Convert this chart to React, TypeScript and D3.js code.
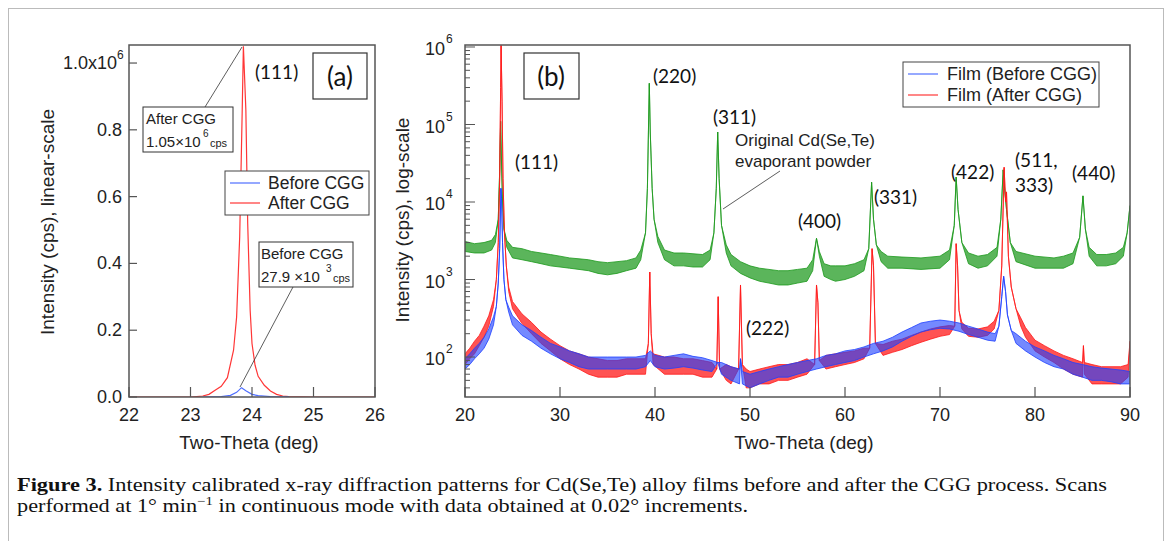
import React from 'react';
import * as d3 from 'd3';

type P = [number, number, number?];

// ---- panel (a): linear scale, (111) reflection ----
const aXTicks = [22, 23, 24, 25, 26];
const aYTicks = [0, 0.2e6, 0.4e6, 0.6e6, 0.8e6, 1.0e6];
const aYLabels = ['0.0', '0.2', '0.4', '0.6', '0.8', '1.0x10'];

const aAfter: [number, number][] = [
  [22.0, 0], [23.0, 0], [23.2, 3e3], [23.3, 8e3], [23.4, 20e3], [23.5, 32e3], [23.6, 58e3],
  [23.7, 140e3], [23.75, 240e3], [23.8, 480e3], [23.84, 850e3], [23.86, 1050e3], [23.9, 860e3],
  [23.93, 520e3], [23.97, 260e3], [24.0, 160e3], [24.05, 95e3], [24.1, 62e3], [24.2, 35e3],
  [24.3, 18e3], [24.4, 8e3], [24.5, 3e3], [24.6, 1e3], [25.0, 0], [26.0, 0],
];
const aBefore: [number, number][] = [
  [23.2, 0], [23.5, 1.5e3], [23.65, 5e3], [23.75, 14e3], [23.83, 27.9e3], [23.9, 19e3],
  [24.0, 8e3], [24.1, 4e3], [24.3, 1.5e3], [24.6, 0.3e3],
];

// ---- panel (b): log scale, full scan. [2theta, low, high] of the noise band ----
const bXTicks = [20, 30, 40, 50, 60, 70, 80, 90];
const bYMajor = [1e2, 1e3, 1e4, 1e5, 1e6];
const bYExp = ['2', '3', '4', '5', '6'];

const powder: P[] = [
  [20, 2300, 3100], [21, 2200, 2900], [22, 2200, 3000], [22.8, 2400, 3200], [23.2, 3000, 3800],
  [23.5, 6000], [23.65, 2.5e4], [23.75, 1.1e5], [23.85, 3e4], [23.95, 1e4], [24.1, 4500],
  [24.4, 2600, 3200], [25, 1900, 2600], [26, 1800, 2500], [27, 1700, 2300], [28, 1600, 2200],
  [29, 1500, 2100], [30, 1450, 2000], [31, 1400, 1900], [32, 1350, 1850], [33, 1300, 1800],
  [34, 1200, 1700], [35, 1150, 1650], [36, 1200, 1700], [37, 1300, 1750], [38, 1400, 1900],
  [38.5, 1800, 2400], [39.0, 4000], [39.2, 1.5e4], [39.4, 3.4e5], [39.5, 8e4], [39.7, 1.5e4],
  [39.9, 6000], [40.3, 3000, 3600], [41, 1800, 2400], [42, 1500, 2200], [43, 1500, 2200],
  [44, 1450, 2150], [45, 1450, 2100], [45.8, 1800, 2400], [46.2, 4000], [46.45, 1.5e4],
  [46.6, 8e4], [46.75, 2e4], [47.0, 5000], [47.5, 2200, 2800], [48, 1500, 2100], [49, 1200, 1700],
  [50, 1050, 1500], [51, 950, 1400], [52, 900, 1350], [53, 850, 1300], [54, 850, 1300],
  [55, 900, 1350], [56, 950, 1400], [56.6, 1300, 1800], [57.0, 3400], [57.3, 2000, 2300],
  [57.8, 1100, 1600], [58.5, 1000, 1500], [59, 950, 1500], [60, 1000, 1500], [61, 1100, 1600],
  [62, 1300, 1800], [62.5, 2500], [62.8, 1.8e4], [63.0, 6000], [63.3, 2800], [63.8, 1700, 2300],
  [64.5, 1400, 2000], [66, 1400, 1950], [68, 1350, 1900], [70, 1400, 2000], [71, 1800, 2400],
  [71.5, 5000], [71.7, 2.1e4], [71.9, 8000], [72.3, 3000], [73, 1600, 2200], [74, 1400, 2000],
  [75, 1500, 2100], [76, 2000, 2600], [76.4, 6000], [76.65, 2.6e4], [76.8, 1.5e4], [77.0, 8000],
  [77.4, 3000], [78, 1700, 2300], [80, 1400, 2000], [82, 1400, 1900], [83, 1400, 2000],
  [84, 1600, 2200], [84.7, 3500], [85.05, 1.2e4], [85.3, 4500], [85.7, 2000, 2600],
  [86.5, 1500, 2100], [87.5, 1500, 2100], [88.5, 1600, 2200], [89.3, 2000, 2600], [89.7, 4000],
  [90, 9000],
];

const filmBefore: P[] = [
  [20, 70, 95], [20.5, 80, 110], [21, 95, 130], [21.5, 110, 150], [22, 130, 180], [22.5, 170, 230],
  [23, 260, 330], [23.3, 450], [23.5, 900], [23.65, 2500], [23.78, 1.5e4], [23.85, 1.1e4],
  [23.95, 3000], [24.1, 1000], [24.3, 550], [24.6, 380, 440], [25, 260, 340], [26, 190, 260],
  [27, 160, 220], [28, 130, 180], [29, 110, 150], [30, 95, 135], [31, 85, 120], [32, 75, 110],
  [33, 70, 100], [34, 70, 100], [35, 70, 100], [36, 70, 100], [37, 70, 100], [38, 70, 100],
  [39, 75, 105], [39.5, 90, 120], [40, 75, 105], [41, 70, 100], [42, 72, 105], [43, 75, 110],
  [44, 72, 102], [45, 68, 98], [46, 65, 90], [46.6, 85], [47, 60, 85], [48, 50, 75],
  [48.9, 45, 70], [49.0, 95], [49.2, 45, 65], [50, 40, 60], [51, 45, 65], [52, 50, 70],
  [53, 55, 75], [54, 55, 80], [55, 60, 85], [56, 65, 90], [57, 70, 95], [58, 75, 105],
  [59, 80, 110], [60, 85, 120], [61, 90, 125], [62, 100, 135], [63, 110, 150], [64, 120, 160],
  [65, 135, 180], [66, 160, 210], [67, 185, 240], [68, 210, 275], [69, 225, 290], [70, 235, 300],
  [71, 230, 290], [72, 215, 275], [73, 195, 250], [74, 180, 230], [75, 165, 210], [75.8, 160, 200],
  [76.2, 250], [76.5, 600], [76.7, 1100], [76.9, 700], [77.1, 350], [77.5, 220], [78, 150, 200],
  [79, 120, 160], [80, 100, 135], [81, 85, 120], [82, 75, 105], [83, 70, 95], [84, 60, 85],
  [85, 55, 80], [86, 50, 75], [87, 50, 72], [88, 48, 70], [89, 45, 68], [90, 45, 65],
];

const filmAfter: P[] = [
  [20, 80, 110], [20.5, 95, 130], [21, 110, 160], [21.5, 140, 190], [22, 180, 250], [22.5, 250, 340],
  [23, 450, 550], [23.3, 1000], [23.5, 3000], [23.65, 2e4], [23.75, 3e5], [23.8, 1.05e6],
  [23.9, 2e5], [24.0, 2e4], [24.15, 4000], [24.35, 1500], [24.6, 700, 800], [25, 420, 520],
  [26, 270, 360], [27, 200, 280], [28, 150, 210], [29, 120, 170], [30, 95, 140], [31, 80, 120],
  [32, 70, 110], [33, 60, 100], [34, 55, 95], [35, 55, 90], [36, 55, 90], [37, 60, 95],
  [38, 60, 95], [39, 60, 95], [39.3, 150], [39.45, 1250], [39.6, 200], [39.8, 80, 110],
  [41, 60, 100], [42, 60, 100], [43, 60, 95], [44, 60, 95], [45, 55, 90], [46, 55, 85],
  [46.5, 70], [46.65, 600], [46.8, 70], [47.5, 50, 80], [48, 45, 75], [48.8, 70], [49.0, 850],
  [49.2, 80], [49.6, 40, 70], [50, 40, 65], [51, 45, 70], [52, 45, 75], [53, 50, 80], [54, 50, 80],
  [55, 55, 85], [56, 60, 95], [56.8, 80], [57.0, 850], [57.15, 500], [57.3, 90], [58, 70, 105],
  [59, 75, 110], [60, 80, 115], [61, 85, 120], [62, 95, 130], [62.6, 130], [62.85, 2500],
  [63.0, 1500], [63.2, 150], [64, 105, 145], [65, 115, 160], [66, 125, 170], [67, 140, 190],
  [68, 155, 210], [69, 170, 230], [70, 185, 245], [71, 195, 255], [71.55, 250], [71.7, 2900],
  [71.85, 1500], [72.0, 400], [72.3, 230, 280], [73, 185, 235], [74, 180, 230], [75, 190, 245],
  [75.7, 230, 290], [76.2, 400], [76.5, 1500], [76.75, 2.8e4], [76.9, 1e4], [77.0, 1.35e4],
  [77.2, 2000], [77.5, 800], [78, 420], [78.5, 250, 320], [79, 180, 240], [80, 120, 165],
  [81, 100, 140], [82, 85, 120], [83, 70, 105], [84, 60, 95], [85, 55, 85], [85.1, 140],
  [85.2, 60, 85], [86, 45, 80], [87, 45, 75], [88, 45, 75], [89, 45, 75], [89.8, 55, 80],
  [90, 160],
];

// label, 2theta, cps at text baseline
const bPeaks: [string, number, number][] = [
  ['(111)', 25.26, 2.67e4], ['(220)', 39.79, 3.43e5], ['(311)', 46.1, 1.01e5], ['(222)', 49.58, 192],
  ['(400)', 55.05, 4620], ['(331)', 63.05, 9420], ['(422)', 71.16, 1.98e4], ['(440)', 83.9, 1.9e4],
  ['(511,', 77.9, 2.8e4], ['333)', 77.9, 1.33e4],
];

const FONT = '"Liberation Sans", Arial, sans-serif';
const PEAKFONT = 'Lato, "Open Sans", sans-serif';
const AXIS = '#555';
const RED = '#ff1a1a';
const BLUE = '#1f40ff';
const GREEN = '#1c991c';

const A = { left: 129, right: 375, top: 45, bottom: 397 };
const B = { left: 465, right: 1130, top: 45, bottom: 397 };

const xA = d3.scaleLinear().domain([22, 26]).range([A.left, A.right]);
const yA = d3.scaleLinear().domain([0, 1.054e6]).range([A.bottom, A.top]);
const xB = d3.scaleLinear().domain([20, 90]).range([B.left, B.right]);
const yB = d3.scaleLog().domain([30.5, 1.061e6]).range([B.bottom, B.top]);

const lineA = d3.line<[number, number]>().x(d => xA(d[0])).y(d => yA(d[1]));
const bandB = d3.area<P>()
  .x(d => xB(d[0]))
  .y0(d => yB(d[1]))
  .y1(d => yB(d[2] ?? d[1]));

const Band = ({ data, color, opacity }: { data: P[]; color: string; opacity: number }) => (
  <path d={bandB(data) || ''} fill={color} fillOpacity={opacity} stroke={color} strokeWidth={0.9} strokeOpacity={0.9} strokeLinejoin="round" />
);

const App = () => {
  const logTicks = yB.ticks().filter(v => v > 30.5 && v < 1.061e6);
  return (
    <div>
      <style>{'body{margin:0}'}</style>
      <svg width={1168} height={541} style={{ display: 'block', background: '#fff' }}>
        <defs>
          <clipPath id="clipA"><rect x={A.left} y={A.top} width={A.right - A.left} height={A.bottom - A.top} /></clipPath>
          <clipPath id="clipB"><rect x={B.left} y={B.top} width={B.right - B.left} height={B.bottom - B.top} /></clipPath>
        </defs>
        <rect x={8.5} y={8.5} width={1155} height={620} fill="none" stroke="#bbb" strokeWidth={1} />

        {/* ---------- panel (a) ---------- */}
        <g clipPath="url(#clipA)">
          <path d={lineA(aAfter) || ''} fill="none" stroke="#ff3636" strokeWidth={1.2} />
          <path d={lineA(aBefore) || ''} fill="none" stroke="#4f6fff" strokeWidth={1.2} />
        </g>
        <rect x={A.left} y={A.top} width={A.right - A.left} height={A.bottom - A.top} fill="none" stroke={AXIS} strokeWidth={1.5} />
        {aYTicks.map((t, i) => (
          <g key={t}>
            <line x1={A.left} x2={A.left + 8} y1={yA(t)} y2={yA(t)} stroke={AXIS} strokeWidth={1.2} />
            <text x={i === 5 ? 117 : 122} y={yA(t) + 6} textAnchor="end" fontFamily={FONT} fontSize={18} fill="#222">{aYLabels[i]}</text>
            {i === 5 && <text x={117} y={yA(t) - 4} fontFamily={FONT} fontSize={12} fill="#222">6</text>}
          </g>
        ))}
        {aXTicks.map(t => (
          <g key={t}>
            <line x1={xA(t)} x2={xA(t)} y1={A.bottom} y2={A.bottom - 10} stroke={AXIS} strokeWidth={1.2} />
            <text x={xA(t)} y={421} textAnchor="middle" fontFamily={FONT} fontSize={18} fill="#222">{t}</text>
          </g>
        ))}
        <text x={249} y={449} textAnchor="middle" fontFamily={FONT} fontSize={19} fill="#222">Two-Theta (deg)</text>
        <text transform="translate(54,222) rotate(-90)" textAnchor="middle" fontFamily={FONT} fontSize={19} fill="#222">Intensity (cps), linear-scale</text>

        <text x={255} y={79} fontFamily={PEAKFONT} fontSize={19} fill="#111">(111)</text>
        <rect x={313} y={53} width={54} height={46} fill="#fff" stroke="#333" strokeWidth={1.2} />
        <text x={340} y={86} textAnchor="middle" fontFamily={PEAKFONT} fontSize={26} fill="#111">(a)</text>

        <line x1={205} y1={107} x2={242} y2={47} stroke="#333" strokeWidth={0.8} />
        <rect x={143} y={107} width={90} height={45} fill="#fff" stroke="#333" strokeWidth={1} />
        <text x={146} y={124} fontFamily={FONT} fontSize={15} fill="#222">After CGG</text>
        <text x={146} y={147} fontFamily={FONT} fontSize={15} fill="#222">1.05×10</text>
        <text x={203} y={137} fontFamily={FONT} fontSize={10} fill="#222">6</text>
        <text x={210} y={147} fontFamily={FONT} fontSize={11} fill="#222">cps</text>

        <line x1={293} y1={287} x2={240} y2={387} stroke="#333" strokeWidth={0.8} />
        <rect x={259} y={242} width={94} height={45} fill="#fff" stroke="#333" strokeWidth={1} />
        <text x={261} y={259} fontFamily={FONT} fontSize={15} fill="#222">Before CGG</text>
        <text x={261} y={282} fontFamily={FONT} fontSize={15} fill="#222">27.9 ×10</text>
        <text x={326} y={272} fontFamily={FONT} fontSize={10} fill="#222">3</text>
        <text x={333} y={282} fontFamily={FONT} fontSize={11} fill="#222">cps</text>

        <rect x={225} y={171} width={144} height={44} fill="#fff" stroke="#444" strokeWidth={1} />
        <line x1={230} x2={260} y1={183} y2={183} stroke="#4f6fff" strokeWidth={1.2} />
        <line x1={230} x2={260} y1={203} y2={203} stroke="#ff3636" strokeWidth={1.2} />
        <text x={268} y={189} fontFamily={FONT} fontSize={17.5} fill="#222">Before CGG</text>
        <text x={268} y={209} fontFamily={FONT} fontSize={17.5} fill="#222">After CGG</text>

        {/* ---------- panel (b) ---------- */}
        <g clipPath="url(#clipB)">
          <Band data={powder} color={GREEN} opacity={0.72} />
          <Band data={filmAfter} color={RED} opacity={0.75} />
          <Band data={filmBefore} color={BLUE} opacity={0.62} />
        </g>
        <rect x={B.left} y={B.top} width={B.right - B.left} height={B.bottom - B.top} fill="none" stroke={AXIS} strokeWidth={1.5} />
        {logTicks.map(t => {
          const major = Math.abs(Math.log10(t) - Math.round(Math.log10(t))) < 1e-9;
          return <line key={t} x1={B.left} x2={B.left + (major ? 10 : 5)} y1={yB(t)} y2={yB(t)} stroke={AXIS} strokeWidth={1} />;
        })}
        {bYMajor.map((t, i) => (
          <g key={t}>
            <text x={445} y={yB(t) + 8} textAnchor="end" fontFamily={FONT} fontSize={18} fill="#222">10</text>
            <text x={446} y={yB(t) - 4} fontFamily={FONT} fontSize={12} fill="#222">{bYExp[i]}</text>
          </g>
        ))}
        {bXTicks.map(t => (
          <g key={t}>
            <line x1={xB(t)} x2={xB(t)} y1={B.bottom} y2={B.bottom - 10} stroke={AXIS} strokeWidth={1.2} />
            <text x={xB(t)} y={421} textAnchor="middle" fontFamily={FONT} fontSize={18} fill="#222">{t}</text>
          </g>
        ))}
        <text x={804} y={449} textAnchor="middle" fontFamily={FONT} fontSize={19} fill="#222">Two-Theta (deg)</text>
        <text transform="translate(409,220) rotate(-90)" textAnchor="middle" fontFamily={FONT} fontSize={19} fill="#222">Intensity (cps), log-scale</text>

        <rect x={524} y={53} width={55} height={46} fill="#fff" stroke="#333" strokeWidth={1.2} />
        <text x={551} y={86} textAnchor="middle" fontFamily={PEAKFONT} fontSize={26} fill="#111">(b)</text>

        {bPeaks.map(([label, x, y]) => (
          <text key={label} x={xB(x)} y={yB(y)} fontFamily={PEAKFONT} fontSize={19} fill="#111">{label}</text>
        ))}

        <line x1={723} y1={209} x2={780} y2={171} stroke="#333" strokeWidth={0.8} />
        <text x={735} y={146} fontFamily={FONT} fontSize={17} fill="#222">Original Cd(Se,Te)</text>
        <text x={735} y={167} fontFamily={FONT} fontSize={17} fill="#222">evaporant powder</text>

        <rect x={903} y={62} width={196} height={45} fill="#fff" stroke="#444" strokeWidth={1} />
        <line x1={908} x2={938} y1={74} y2={74} stroke="#4f6fff" strokeWidth={1.2} />
        <line x1={908} x2={938} y1={95} y2={95} stroke="#ff3636" strokeWidth={1.2} />
        <text x={947} y={80} fontFamily={FONT} fontSize={18} fill="#222">Film (Before CGG)</text>
        <text x={947} y={101} fontFamily={FONT} fontSize={18} fill="#222">Film (After CGG)</text>

        {/* ---------- caption ---------- */}
        <text x={17} y={491} fontFamily='"Liberation Serif", "Times New Roman", serif' fontSize={18} fill="#111" textLength={1090} lengthAdjust="spacingAndGlyphs">
          <tspan fontWeight="bold">Figure 3.</tspan> Intensity calibrated x-ray diffraction patterns for Cd(Se,Te) alloy films before and after the CGG process. Scans
        </text>
        <text x={17} y={512} fontFamily='"Liberation Serif", "Times New Roman", serif' fontSize={18} fill="#111" textLength={731} lengthAdjust="spacingAndGlyphs">
          performed at 1° min<tspan dy={-7} fontSize={12}>−1</tspan><tspan dy={7}> in continuous mode with data obtained at 0.02° increments.</tspan>
        </text>
      </svg>
    </div>
  );
};

export default App;
